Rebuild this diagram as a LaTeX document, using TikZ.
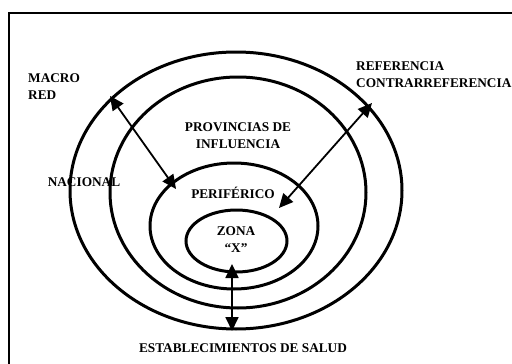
\documentclass[tikz,border=0pt]{standalone}
\usepackage{fontspec}
\setmainfont{Liberation Serif}
\usetikzlibrary{arrows.meta}

\tikzset{
  lbl/.style={font=\fontsize{13.3}{17}\selectfont\bfseries, inner sep=0pt},
  ring/.style={line width=3pt},
  link/.style={line width=1.8pt, {Triangle[length=14pt,width=13pt]}-{Triangle[length=14pt,width=13pt]}}
}

\begin{document}
\begin{tikzpicture}[x=1pt,y=-1pt]
      % Bounding box
      \useasboundingbox (0,0) rectangle (512,364);

      % frame (only top and left edges show)
      \draw[line width=2pt] (512,13) -- (9,13) -- (9,364);

      % rings
      \draw[ring] (236,190.5) ellipse [x radius=166, y radius=138.5];
      \draw[ring] (238,192.5) ellipse [x radius=128, y radius=115.5];
      \draw[ring] (234,226) ellipse [x radius=84, y radius=63];
      \draw[ring] (236.5,241) ellipse [x radius=50.5, y radius=31];

      \draw (28,87) node (macro)[lbl,right,align=left] {MACRO\\RED};
      \draw (356,75) node (referencia)[lbl,right,align=left] {REFERENCIA\\CONTRARREFERENCIA};
      \draw (238,136) node (provincias)[lbl,align=center] {PROVINCIAS DE\\INFLUENCIA};
      \draw (84,182) node (nacional)[lbl] {NACIONAL};
      \draw (233,193) node (periferico)[lbl] {PERIFÉRICO};
      \draw (236,240) node (zona)[lbl,align=center] {ZONA\\“X”};
      \draw (243,348) node (establecimientos)[lbl] {ESTABLECIMIENTOS DE SALUD};

      \coordinate (macroend) at (110,96);
      \coordinate (perifend) at (176,189);
      \coordinate (refend) at (372,103);
      \coordinate (zonaend) at (279,208);
      \coordinate (zonabot) at (232,264);
      \coordinate (saludtop) at (232,331);

      \draw [link] (macroend) -- (perifend);
      \draw [link] (refend) -- (zonaend);
      \draw [link] (zonabot) -- (saludtop);
\end{tikzpicture}
\end{document}
